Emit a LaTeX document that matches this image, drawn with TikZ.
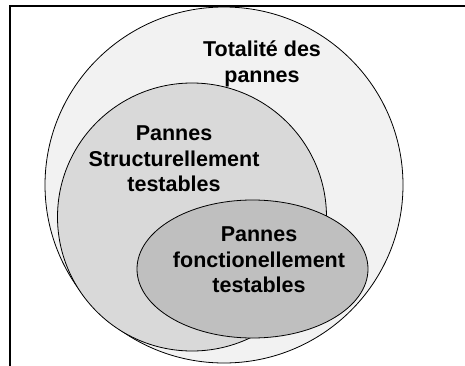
\documentclass[tikz,border=0pt]{standalone}
\usepackage{fontspec}
\setmainfont{Liberation Sans}
\begin{document}
\begin{tikzpicture}[x=1pt,y=-1pt,
  setshape/.style={draw=black,line width=0.8pt},
  lbl/.style={align=center,font=\bfseries\fontsize{21.5}{25.5}\selectfont,inner sep=0pt}]
\useasboundingbox (0,0) rectangle (465,366);
\fill[white] (0,0) rectangle (465,366);
\draw[line width=2pt] (10,366) -- (10,6) -- (465,6);
\draw[setshape,fill=black!5] (224,185) ellipse [x radius=179, y radius=178];
\draw[setshape,fill=black!15] (192,217) ellipse [x radius=134.5, y radius=134];
\draw[setshape,fill=black!25] (252.5,269) ellipse [x radius=115.5, y radius=69];
\node[lbl] (tot) at (262,64) {Totalité des\\pannes};
\node[lbl] (struct) at (174,159) {Pannes\\Structurellement\\testables};
\node[lbl] (fonct) at (259,260) {Pannes\\fonctionellement\\testables};
\end{tikzpicture}
\end{document}
